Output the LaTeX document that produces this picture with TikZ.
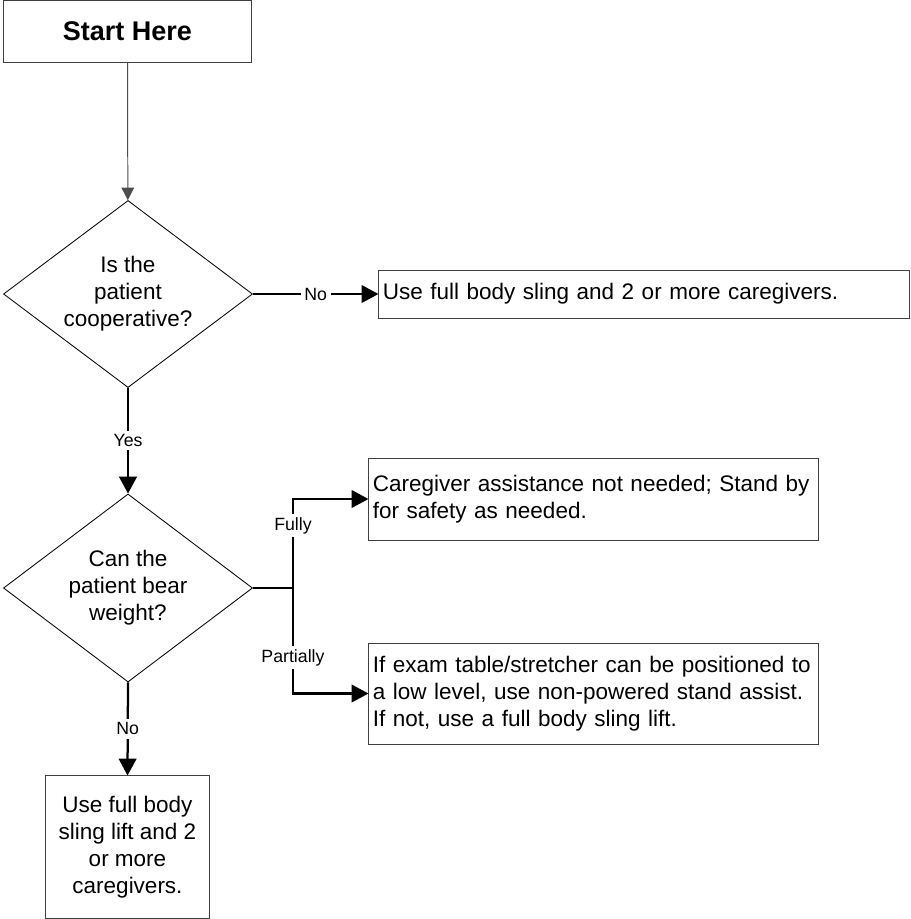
\documentclass[tikz,border=0pt]{standalone}
\usepackage{fontspec}
\setmainfont{Liberation Sans}
\usetikzlibrary{arrows.meta,shapes.geometric}

\begin{document}
\begin{tikzpicture}[x=0.025cm, y=-0.025cm,
	box/.style={draw=black!75, line width=0.7pt, inner sep=0pt, inner xsep=0.1cm, font=\fontsize{16}{19.2}\selectfont},
	decision/.style={diamond, draw, line width=0.6pt, inner sep=0pt, aspect=1.33, align=center, font=\fontsize{16}{19.2}\selectfont},
	flow/.style={line width=1.6pt, -{Triangle[length=12pt,width=12.5pt]}},
	lbl/.style={fill=white, inner sep=2.5pt, font=\fontsize{12.6}{15}\selectfont}]
	\useasboundingbox (0,0) rectangle (910,919);
	% boxes and questions
	\node[box, minimum width=6.175cm, minimum height=1.54cm, font=\fontsize{19.2}{23}\selectfont\bfseries] (start) at (127.5,31.25) {Start Here};
	\node[decision, minimum width=6.225cm, minimum height=4.675cm] (q1) at (128,294) {Is the\\patient\\cooperative?};
	\node[box, minimum width=13.25cm, minimum height=1.2cm, text width=13.05cm, align=left] (sling) at (644,294) {Use full body sling and 2 or more caregivers.};
	\node[decision, minimum width=6.225cm, minimum height=4.7cm] (q2) at (128,588) {Can the\\patient bear\\weight?};
	\node[box, minimum width=11.225cm, minimum height=2.05cm, text width=11.025cm, align=left] (fully) at (593.5,499) {Caregiver assistance not needed; Stand by\\for safety as needed.};
	\node[box, minimum width=11.225cm, minimum height=2.525cm, text width=11.025cm, align=left] (partial) at (593.5,693.5) {If exam table/stretcher can be positioned to\\a low level, use non-powered stand assist.\\If not, use a full body sling lift.};
	\node[box, minimum width=4.075cm, minimum height=3.55cm, align=center] (lift) at (127.5,847) {Use full body\\sling lift and 2\\or more\\caregivers.};
	%
	\coordinate (split) at (293,588);
	\draw[line width=0.7pt, draw=black!70, -{Triangle[length=9pt,width=9pt]}] (start) -- (q1);
	\draw[flow] (q1.east) -- node[lbl] {No} (sling.west);
	\draw[flow] (q1.south) -- node[lbl] {Yes} (q2.north);
	\draw[line width=1.6pt] (q2.east) -- (split);
	\draw[flow] (split) |- node[lbl, pos=0.35] {Fully} (fully.west);
	\draw[flow] (split) |- node[lbl, pos=0.33] {Partially} (partial.west);
	\draw[flow] (q2.south) -- node[lbl] {No} (lift.north);
\end{tikzpicture}
\end{document}
